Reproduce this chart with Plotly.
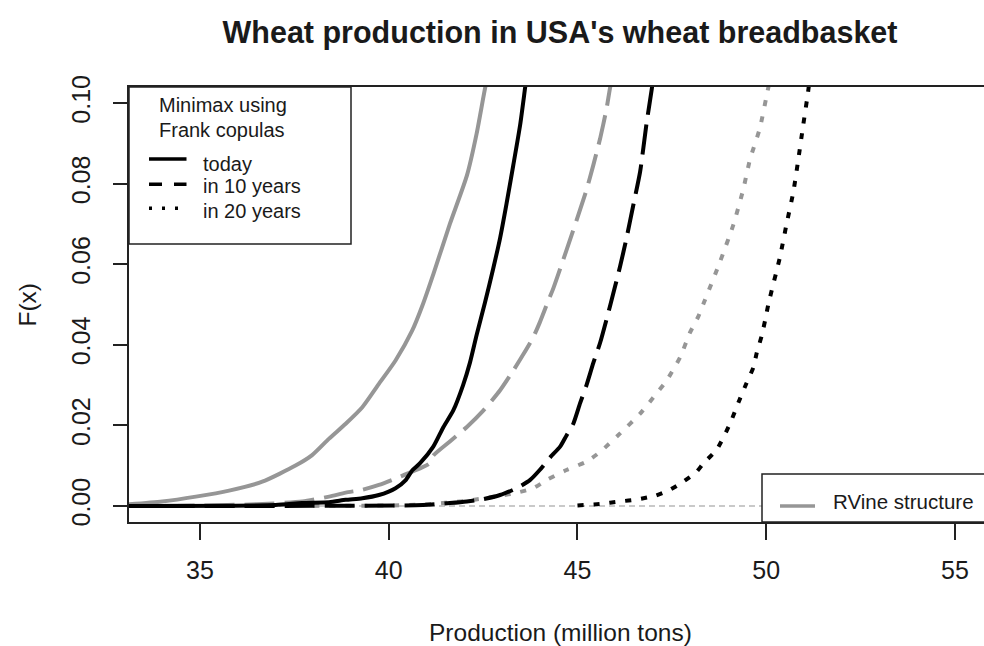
import plotly.graph_objects as go

# ---------------- data ----------------
# RVine structure (gray)
rvine_today_x = [33.0, 34.0, 34.89, 35.77, 36.65, 37.53, 37.97, 38.42, 38.86, 39.30, 39.74, 40.18, 40.62, 40.89, 41.18, 41.62, 42.07, 42.33, 42.55, 42.7]
rvine_today_y = [0.0003, 0.0011, 0.0023, 0.0038, 0.0060, 0.0100, 0.0126, 0.0167, 0.0204, 0.0245, 0.0303, 0.0361, 0.0435, 0.0497, 0.0575, 0.0700, 0.0820, 0.0925, 0.1036, 0.11]

rvine_10_x = [33.0, 35.0, 36.5, 37.71, 38.42, 38.86, 39.30, 39.74, 40.18, 40.62, 41.07, 41.18, 41.62, 42.07, 42.51, 42.95, 43.30, 43.57, 43.83, 44.0, 44.23, 44.36, 44.71, 44.98, 45.24, 45.42, 45.6, 45.77, 45.86, 46.0]
rvine_10_y = [0.0000, 0.0001, 0.0004, 0.0011, 0.0023, 0.0033, 0.0040, 0.0052, 0.0068, 0.0085, 0.0105, 0.0125, 0.0160, 0.0196, 0.0237, 0.0287, 0.0336, 0.0377, 0.0419, 0.0455, 0.0510, 0.0540, 0.0635, 0.0710, 0.0785, 0.0846, 0.0912, 0.0986, 0.1036, 0.11]

rvine_20_x = [38.0, 40.0, 41.0, 42.0, 42.95, 43.4, 43.83, 44.18, 44.71, 45.24, 45.6, 46.13, 46.66, 47.1, 47.36, 47.72, 47.98, 48.2, 48.33, 48.78, 49.13, 49.39, 49.57, 49.83, 50.05, 50.2]
rvine_20_y = [0.0000, 0.0001, 0.0004, 0.0012, 0.0025, 0.0033, 0.0044, 0.0064, 0.0089, 0.0110, 0.0134, 0.0180, 0.0229, 0.0280, 0.0311, 0.0369, 0.0430, 0.0470, 0.0500, 0.0607, 0.0698, 0.0785, 0.0860, 0.0937, 0.1036, 0.11]

# Minimax using Frank copulas (black)
frank_today_x = [33.0, 37.0, 37.7, 38.42, 38.86, 39.30, 39.74, 40.18, 40.45, 40.62, 40.83, 41.18, 41.45, 41.71, 41.97, 42.15, 42.33, 42.55, 42.77, 42.95, 43.12, 43.30, 43.48, 43.61, 43.7]
frank_today_y = [0.0000, 0.0002, 0.0007, 0.0009, 0.0015, 0.0019, 0.0027, 0.0044, 0.0064, 0.0088, 0.0106, 0.0147, 0.0196, 0.0237, 0.0300, 0.0355, 0.0425, 0.0505, 0.0590, 0.0665, 0.0750, 0.0846, 0.0945, 0.1036, 0.11]

frank_10_x = [33.0, 40.9, 41.62, 42.07, 42.51, 42.95, 43.39, 43.74, 44.0, 44.27, 44.54, 44.71, 44.89, 45.07, 45.24, 45.42, 45.6, 45.86, 46.13, 46.3, 46.48, 46.66, 46.83, 46.97, 47.05]
frank_10_y = [0.0000, 0.0002, 0.0007, 0.0011, 0.0017, 0.0027, 0.0044, 0.0064, 0.0089, 0.0120, 0.0147, 0.0175, 0.0204, 0.0255, 0.0300, 0.0355, 0.0405, 0.0495, 0.0595, 0.0665, 0.0747, 0.0830, 0.0950, 0.1036, 0.11]

frank_20_x = [45.0, 45.6, 46.13, 46.57, 47.05, 47.45, 47.8, 48.16, 48.33, 48.69, 49.04, 49.30, 49.48, 49.66, 49.75, 49.88, 49.97, 50.06, 50.36, 50.54, 50.72, 50.85, 50.98, 51.11, 51.2]
frank_20_y = [0.0001, 0.0005, 0.0011, 0.0016, 0.0025, 0.0040, 0.0060, 0.0085, 0.0105, 0.0140, 0.0204, 0.0265, 0.0305, 0.0344, 0.0380, 0.0422, 0.0460, 0.0502, 0.0616, 0.0700, 0.0780, 0.0860, 0.0945, 0.1028, 0.11]

baseline_y = 0.0
x_range = [33.119, 55.77]
y_range = [-0.004, 0.104]
x_ticks = [35, 40, 45, 50, 55]
y_ticks = [0.00, 0.02, 0.04, 0.06, 0.08, 0.10]

title_text = "Wheat production in USA's wheat breadbasket"
x_title = "Production (million tons)"
y_title = "F(x)"
legend_title = ["Minimax using", "Frank copulas"]
legend_labels = ["today", "in 10 years", "in 20 years"]
legend2_label = "RVine structure"

# ---------------- styling ----------------
GRAY = "#969696"
BLACK = "#000000"
TXT = "#1a1a1a"
FONT = "Liberation Sans, Arial, sans-serif"
LW = 4
DASH = "30px,10px"
DOT = "6px,10px"

# plot area in pixels
W, H = 984, 646
L, R, T, B = 129, 984, 87, 522


def px_x(p):
    return (p - L) / (R - L)


def px_y(p):
    return (B - p) / (B - T)


fig = go.Figure()

series = [
    ("RVine today", rvine_today_x, rvine_today_y, GRAY, "solid"),
    ("RVine in 10 years", rvine_10_x, rvine_10_y, GRAY, DASH),
    ("RVine in 20 years", rvine_20_x, rvine_20_y, GRAY, DOT),
    ("Frank today", frank_today_x, frank_today_y, BLACK, "solid"),
    ("Frank in 10 years", frank_10_x, frank_10_y, BLACK, DASH),
    ("Frank in 20 years", frank_20_x, frank_20_y, BLACK, DOT),
]
for name, xs, ys, col, dash in series:
    fig.add_trace(go.Scatter(x=xs, y=ys, mode="lines", name=name,
                             line=dict(color=col, width=LW, dash=dash, shape="spline", smoothing=0.6),
                             showlegend=False, hoverinfo="x+y+name"))

shapes = []
# dashed horizontal reference line at 0
shapes.append(dict(type="line", xref="paper", yref="y", x0=0, x1=1, y0=baseline_y, y1=baseline_y,
                   line=dict(color="#b8b8b8", width=1.5, dash="6px,4px"), layer="below"))
# legend box 1 (top-left)
shapes.append(dict(type="rect", xref="paper", yref="paper", x0=0, x1=px_x(351), y0=px_y(244), y1=1,
                   line=dict(color="#222222", width=1.5), fillcolor="white", layer="above"))
# legend 1 line samples
samples = [(159, "solid"), (184.3, "13px,12px"), (208.3, "3px,10px")]
for yy, dsh in samples:
    shapes.append(dict(type="line", xref="paper", yref="paper", x0=px_x(149), x1=px_x(186.5),
                       y0=px_y(yy), y1=px_y(yy), line=dict(color=BLACK, width=3.5, dash=dsh), layer="above"))
# legend box 2 (bottom-right)
shapes.append(dict(type="rect", xref="paper", yref="paper", x0=px_x(762), x1=1.05, y0=0, y1=px_y(474),
                   line=dict(color="#222222", width=1.5), fillcolor="white", layer="above"))
shapes.append(dict(type="line", xref="paper", yref="paper", x0=px_x(780), x1=px_x(815),
                   y0=px_y(506), y1=px_y(506), line=dict(color=GRAY, width=3.5), layer="above"))

annotations = []
for txt, cx, cy in [(legend_title[0], 223, 104.8), (legend_title[1], 222, 130.4)]:
    annotations.append(dict(text=txt, xref="paper", yref="paper", x=px_x(cx), y=px_y(cy),
                            xanchor="center", yanchor="middle", showarrow=False,
                            font=dict(family=FONT, size=20, color=TXT)))
for txt, cy in zip(legend_labels, [163.8, 186.4, 210.8]):
    annotations.append(dict(text=txt, xref="paper", yref="paper", x=px_x(201), y=px_y(cy),
                            xanchor="left", yanchor="middle", showarrow=False,
                            font=dict(family=FONT, size=20, color=TXT)))
annotations.append(dict(text=legend2_label, xref="paper", yref="paper", x=px_x(831), y=px_y(501.5),
                        xanchor="left", yanchor="middle", showarrow=False,
                        font=dict(family=FONT, size=20.5, color=TXT)))
# axis titles
annotations.append(dict(text=x_title, xref="paper", yref="paper", x=px_x(560), y=px_y(632),
                        xanchor="center", yanchor="middle", showarrow=False,
                        font=dict(family=FONT, size=24.5, color=TXT)))
annotations.append(dict(text=y_title, xref="paper", yref="paper", x=px_x(27), y=0.5, textangle=-90,
                        xanchor="center", yanchor="middle", showarrow=False,
                        font=dict(family=FONT, size=24.5, color=TXT)))

fig.update_layout(
    width=W, height=H,
    margin=dict(l=L, r=W - R, t=T, b=H - B, pad=0),
    paper_bgcolor="white", plot_bgcolor="white",
    title=dict(text="<b>" + title_text + "</b>", x=560 / W, xref="container",
               xanchor="center", y=1 - 32 / H, yanchor="middle",
               font=dict(family=FONT, size=30.5, color=TXT)),
    shapes=shapes, annotations=annotations,
    xaxis=dict(range=x_range, tickvals=x_ticks, ticks="outside", ticklen=16, tickwidth=1.5,
               tickcolor="#222222", showline=True, linecolor="#222222", linewidth=1.5, mirror=True,
               showgrid=False, zeroline=False, tickfont=dict(family=FONT, size=25, color=TXT),
               ticklabelstandoff=9),
    yaxis=dict(range=y_range, tickvals=y_ticks, tickformat=".2f", tickangle=-90, ticks="outside",
               ticklen=14, tickwidth=1.5, tickcolor="#222222", showline=True, linecolor="#222222",
               linewidth=1.5, mirror=False, showgrid=False, zeroline=False,
               tickfont=dict(family=FONT, size=25, color=TXT), ticklabelstandoff=13),
    showlegend=False,
)

fig.write_html("out.html", config={"displayModeBar": False},
               post_script="document.body.style.margin='0px';document.body.style.overflow='hidden';")
